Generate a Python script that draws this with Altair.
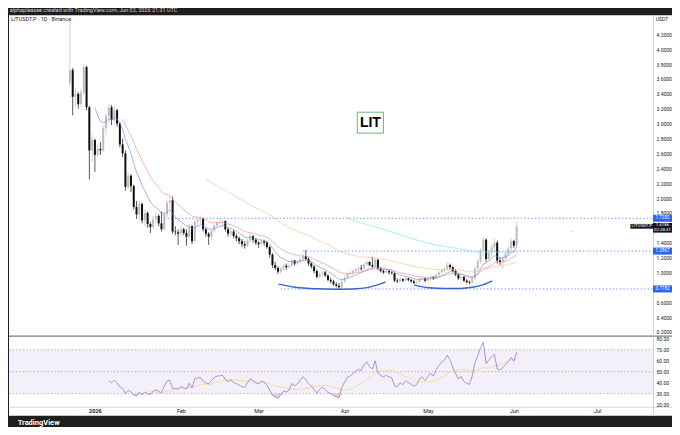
import altair as alt
import pandas as pd
import numpy as np

# ---------------- data ----------------
FIRST_DAY = "2025-12-23"
FIRST_OPEN = 3.55
CLOSE = [
    3.72, 3.36, 3.40, 3.26, 3.42, 3.76, 3.22, 2.64, 2.78, 2.58,
    2.66, 2.64, 2.94, 3.10, 3.22, 3.05, 3.18, 3.00, 2.72, 2.60,
    2.15, 2.30, 2.16, 1.88, 1.78, 1.92, 1.70, 1.80, 1.65, 1.61,
    1.72, 1.76, 1.66, 1.58, 1.78, 1.94, 1.97, 1.55, 1.54, 1.52,
    1.58, 1.53, 1.48, 1.62, 1.42, 1.68, 1.70, 1.72, 1.58, 1.52,
    1.48, 1.56, 1.63, 1.67, 1.68, 1.69, 1.58, 1.52, 1.55, 1.49,
    1.46, 1.42, 1.38, 1.36, 1.43, 1.49, 1.44, 1.40, 1.38, 1.42,
    1.40, 1.34, 1.24, 1.10, 1.06, 1.01, 1.05, 1.09, 1.07, 1.09,
    1.16, 1.12, 1.14, 1.18, 1.22, 1.18, 1.12, 1.08, 1.02, 0.94,
    0.98, 1.00, 0.96, 0.90, 0.88, 0.84, 0.82, 0.80, 0.88, 0.93,
    0.98, 0.99, 1.02, 1.04, 1.06, 1.05, 1.11, 1.14, 1.10, 1.08,
    1.17, 1.05, 1.02, 1.00, 1.02, 1.00, 0.99, 0.89, 0.88, 0.91,
    0.89, 0.92, 0.90, 0.88, 0.86, 0.87, 0.91, 0.92, 0.89, 0.92,
    0.94, 0.92, 0.97, 1.00, 1.03, 1.05, 1.10, 1.07, 1.02, 0.97,
    0.92, 0.94, 0.89, 0.87, 0.86, 0.92, 1.05, 1.15, 1.30, 1.44,
    1.18, 1.26, 1.34, 1.40, 1.16, 1.14, 1.19, 1.25, 1.32, 1.42,
    1.36, 1.62,
]
HIGH = [
    4.38, 3.75, 3.48, 3.42, 3.46, 3.80, 3.78, 3.24, 2.85, 2.80,
    2.72, 2.75, 2.98, 3.14, 3.27, 3.25, 3.24, 3.20, 3.02, 2.80,
    2.64, 2.34, 2.32, 2.18, 1.96, 1.97, 1.94, 1.84, 1.82, 1.68,
    1.76, 1.80, 1.78, 1.82, 1.82, 1.98, 2.03, 2.02, 1.62, 1.58,
    1.62, 1.60, 1.58, 1.66, 1.64, 1.72, 1.74, 1.77, 1.74, 1.60,
    1.54, 1.58, 1.66, 1.70, 1.74, 1.72, 1.70, 1.60, 1.58, 1.57,
    1.52, 1.48, 1.45, 1.42, 1.45, 1.53, 1.50, 1.46, 1.42, 1.44,
    1.44, 1.42, 1.36, 1.26, 1.14, 1.08, 1.07, 1.11, 1.12, 1.12,
    1.18, 1.17, 1.17, 1.21, 1.25, 1.30, 1.20, 1.14, 1.10, 1.04,
    1.00, 1.02, 1.02, 0.97, 0.93, 0.90, 0.87, 0.86, 0.91, 0.96,
    1.00, 1.02, 1.05, 1.07, 1.08, 1.10, 1.13, 1.16, 1.15, 1.21,
    1.19, 1.18, 1.07, 1.04, 1.04, 1.03, 1.02, 1.00, 0.92, 0.93,
    0.92, 0.94, 0.93, 0.91, 0.90, 0.90, 0.93, 0.94, 0.93, 0.94,
    0.96, 0.95, 0.99, 1.02, 1.05, 1.07, 1.13, 1.12, 1.09, 1.04,
    0.99, 0.96, 0.95, 0.91, 0.89, 0.94, 1.08, 1.18, 1.33, 1.47,
    1.46, 1.30, 1.38, 1.45, 1.43, 1.20, 1.22, 1.28, 1.35, 1.46,
    1.44, 1.68,
]
LOW = [
    3.50, 3.11, 3.22, 3.20, 3.22, 3.38, 3.18, 2.25, 2.48, 2.35,
    2.55, 2.58, 2.62, 2.85, 3.00, 2.98, 3.00, 2.96, 2.68, 2.55,
    2.10, 2.12, 2.08, 1.85, 1.72, 1.70, 1.66, 1.62, 1.60, 1.53,
    1.58, 1.66, 1.62, 1.55, 1.56, 1.74, 1.86, 1.52, 1.50, 1.37,
    1.48, 1.50, 1.36, 1.46, 1.38, 1.40, 1.62, 1.64, 1.55, 1.48,
    1.37, 1.44, 1.54, 1.60, 1.63, 1.62, 1.55, 1.48, 1.48, 1.46,
    1.42, 1.38, 1.34, 1.32, 1.34, 1.40, 1.40, 1.37, 1.33, 1.36,
    1.36, 1.32, 1.20, 1.06, 1.03, 0.98, 0.98, 1.02, 1.04, 1.05,
    1.07, 1.09, 1.10, 1.12, 1.15, 1.16, 1.09, 1.05, 0.99, 0.92,
    0.92, 0.95, 0.94, 0.88, 0.85, 0.82, 0.80, 0.78, 0.79, 0.86,
    0.92, 0.95, 0.97, 1.00, 1.01, 1.02, 1.04, 1.08, 1.08, 1.06,
    1.07, 1.03, 1.00, 0.98, 0.98, 0.97, 0.97, 0.87, 0.86, 0.87,
    0.87, 0.88, 0.88, 0.86, 0.84, 0.84, 0.86, 0.89, 0.87, 0.88,
    0.90, 0.90, 0.91, 0.95, 0.98, 1.00, 1.03, 1.04, 1.00, 0.95,
    0.90, 0.90, 0.87, 0.85, 0.84, 0.85, 0.90, 1.02, 1.12, 1.22,
    1.14, 1.16, 1.20, 1.28, 1.12, 1.10, 1.05, 1.16, 1.22, 1.28,
    1.33, 1.33,
]

# horizontal dotted levels
LEVEL_PRICE = [1.7282, 1.2867, 0.7782]
LEVEL_FROM = ["2026-01-26T00:00:00Z", "2026-03-17T00:00:00Z", "2026-03-09T00:00:00Z"]
LEVEL_TEXT = ["1.7282", "1.2867", "0.7782"]

# hand-drawn blue "cup" curves
ARC1_T = ["2026-03-08T05:00:00Z", "2026-03-14T07:00:00Z", "2026-03-21T12:00:00Z",
          "2026-03-28T16:00:00Z", "2026-04-03T19:00:00Z", "2026-04-09T14:00:00Z",
          "2026-04-13T05:00:00Z", "2026-04-15T17:00:00Z"]
ARC1_P = [0.842, 0.800, 0.780, 0.774, 0.778, 0.800, 0.835, 0.874]
ARC2_T = ["2026-04-26T02:00:00Z", "2026-05-01T05:00:00Z", "2026-05-07T07:00:00Z",
          "2026-05-12T17:00:00Z", "2026-05-17T00:00:00Z", "2026-05-21T00:00:00Z",
          "2026-05-24T05:00:00Z"]
ARC2_P = [0.830, 0.795, 0.785, 0.785, 0.800, 0.835, 0.885]

LAST_PRICE = "1.6186"
COUNTDOWN = "02:28:31"
SYMBOL = "LITUSDT.P"
HEADER = "alphapleasee created with TradingView.com, Jun 02, 2026 21:31 UTC"
LEGEND = "LITUSDT.P · 1D · Binance"

# 0.8000 and 1.6000 are covered by the price tags in the reference
PRICE_TICKS = [0.2, 0.4, 0.6, 1.0, 1.2, 1.4, 1.8, 2.0, 2.2, 2.4,
               2.6, 2.8, 3.0, 3.2, 3.4, 3.6, 3.8, 4.0, 4.2]
RSI_TICKS = [20, 30, 40, 50, 60, 70, 80]
MONTH_TICKS = [(2026, m) for m in range(1, 8)]

# ---------------- derived tables ----------------
dates = pd.date_range(FIRST_DAY, periods=len(CLOSE), freq="D")
tstr = [d.strftime("%Y-%m-%dT00:00:00Z") for d in dates]
close = np.array(CLOSE)
opens = np.concatenate([[FIRST_OPEN], close[:-1]])  # continuous candles
up = close >= opens
candles = pd.DataFrame({
    "t": tstr, "o": opens, "c": close, "h": HIGH, "l": LOW,
    "col": np.where(up, "#bdbdbd", "#101010"),
})


def ema(vals, n):
    out = [np.nan] * len(vals)
    out[n - 1] = float(np.mean(vals[:n]))
    a = 2.0 / (n + 1)
    for k in range(n, len(vals)):
        out[k] = a * vals[k] + (1 - a) * out[k - 1]
    return out


ma_rows = []
for n, name in [(100, "ma100"), (50, "ma50"), (20, "ma20"), (10, "ma10")]:
    vals = ema(close, n)
    for t, v in zip(tstr, vals):
        if not np.isnan(v):
            ma_rows.append({"t": t, "p": v, "s": name})
mas = pd.DataFrame(ma_rows)

# RSI 14 (Wilder) + SMA 14 signal
n = 14
delta = np.diff(close)
gain = np.maximum(delta, 0)
loss = np.maximum(-delta, 0)
rsi = [np.nan] * len(close)
ag, al = gain[:n].mean(), loss[:n].mean()
rsi[n] = 100 - 100 / (1 + ag / al)
for k in range(n + 1, len(close)):
    ag = (ag * (n - 1) + gain[k - 1]) / n
    al = (al * (n - 1) + loss[k - 1]) / n
    rsi[k] = 100.0 if al == 0 else 100 - 100 / (1 + ag / al)
rsi_s = pd.Series(rsi)
sig = rsi_s.rolling(14).mean()
rsi_df = pd.DataFrame({"t": tstr, "r": rsi_s, "sg": sig})
rsi_df = rsi_df[rsi_df["r"].notna()]
rsi_df["low"] = rsi_df["r"].clip(upper=30)
sig_df = rsi_df[rsi_df["sg"].notna()]

X_START = "2025-12-01T01:00:00Z"
X_END = "2026-07-28T00:00:00Z"
AXIS_T = "2026-07-21T03:30:00Z"

levels = pd.DataFrame({"t": LEVEL_FROM, "t2": [AXIS_T] * 3, "p": LEVEL_PRICE,
                       "lab": LEVEL_TEXT})
arcs = pd.DataFrame({"t": ARC1_T + ARC2_T, "p": ARC1_P + ARC2_P,
                     "g": ["a"] * len(ARC1_T) + ["b"] * len(ARC2_T)})

# ---------------- encodings ----------------
xscale = alt.Scale(type="utc", domain=[X_START, X_END], nice=False)
pscale = alt.Scale(domain=[0.148, 4.456], nice=False, zero=False)
rscale = alt.Scale(domain=[10, 81.8], nice=False, zero=False)

FONT = "Roboto"
TXT = "#131722"

x_price_axis = alt.Axis(labels=False, ticks=False, grid=False, domain=True,
                        domainColor="#9598a1", domainWidth=1, title=None)
x_rsi_axis = alt.Axis(orient="bottom", offset=-9, ticks=False, grid=False,
                      domainColor="#d1d4dc", title=None, labelFontSize=5.5,
                      labelColor=TXT, labelPadding=2, labelFont=FONT,
                      values=[alt.DateTime(year=y, month=m, date=1, utc=True)
                              for y, m in MONTH_TICKS],
                      labelExpr="utcmonth(datum.value) == 0 ? utcFormat(datum.value, '%Y') : utcFormat(datum.value, '%b')",
                      labelFontWeight={"condition": {"test": "utcmonth(datum.value) == 0", "value": "bold"}, "value": "normal"})
p_axis = alt.Axis(orient="right", offset=-19, values=PRICE_TICKS, format=".4f",
                  labelFontSize=5, labelColor=TXT, ticks=False, grid=False, zindex=0,
                  domainColor="#d1d4dc", labelPadding=3, title=None, labelFont=FONT)
r_axis = alt.Axis(orient="right", offset=-19, values=RSI_TICKS, format=".2f",
                  labelFontSize=5, labelColor=TXT, ticks=False, grid=False,
                  domainColor="#d1d4dc", labelPadding=3, title=None, labelFont=FONT)


def PX(f="t"):
    return alt.X(f"{f}:T", scale=xscale, axis=x_price_axis)


def PY(f="p"):
    return alt.Y(f"{f}:Q", scale=pscale, axis=p_axis)


def RX(f="t"):
    return alt.X(f"{f}:T", scale=xscale, axis=x_rsi_axis)


def RY(f="r"):
    return alt.Y(f"{f}:Q", scale=rscale, axis=r_axis)


WHITE_VIEW = alt.ViewBackground(fill="white", strokeWidth=0)

# ---------------- price panel ----------------
lvl_rules = alt.Chart(levels).mark_rule(color="#2962ff", strokeWidth=0.8,
                                         strokeDash=[1.5, 2], opacity=0.8).encode(
    x=PX(), x2="t2:T", y=PY())

wicks = alt.Chart(candles).mark_rule(strokeWidth=0.7).encode(
    x=PX(), y=PY("l"), y2="h:Q", color=alt.Color("col:N", scale=None))
bodies = alt.Chart(candles).mark_rule(strokeWidth=2).encode(
    x=PX(), y=PY("o"), y2="c:Q", color=alt.Color("col:N", scale=None))

ma_lines = alt.Chart(mas).mark_line(strokeWidth=0.8, opacity=0.8).encode(
    x=PX(), y=PY(), detail="s:N",
    color=alt.Color("s:N", scale=alt.Scale(
        domain=["ma100", "ma50", "ma20", "ma10"],
        range=["#80deea", "#ffb98c", "#f28b8b", "#7985e6"]), legend=None))

arc_lines = alt.Chart(arcs).mark_line(color="#3a62d6", strokeWidth=1.4,
                                      interpolate="monotone").encode(
    x=PX(), y=PY(), detail="g:N")

dot = alt.Chart(pd.DataFrame({"t": ["2026-06-21T21:00:00Z"], "p": [1.548]})).mark_point(
    filled=True, size=2, color="#9598a1").encode(x=PX(), y=PY())

lit_box = alt.Chart(pd.DataFrame({"t": ["2026-04-05T14:00:00Z"], "t2": ["2026-04-15T00:00:00Z"],
                                  "p": [2.872], "p2": [3.154]})).mark_rect(
    fill="white", stroke="#66bb6a", strokeWidth=1).encode(x=PX(), x2="t2:T", y=PY(), y2="p2:Q")
lit_text = alt.Chart(pd.DataFrame({"t": ["2026-04-10T07:00:00Z"], "p": [3.013], "txt": ["LIT"]})).mark_text(
    fontSize=14, fontWeight="bold", color="#000000", font="Liberation Sans",
    baseline="middle", align="center").encode(x=PX(), y=PY(), text="txt:N")

lab_boxes = alt.Chart(levels.assign(a=AXIS_T, b=X_END, lo=levels.p - 0.047,
                                    hi=levels.p + 0.047)).mark_rect(color="#2962ff").encode(
    x=PX("a"), x2="b:T", y=PY("lo"), y2="hi:Q")
lab_text = alt.Chart(levels.assign(m="2026-07-24T14:00:00Z")).mark_text(
    fontSize=4.6, color="white", font=FONT, align="center", baseline="middle").encode(
    x=PX("m"), y=PY(), text="lab:N")

cur_box = alt.Chart(pd.DataFrame({"a": [AXIS_T], "b": [X_END], "lo": [1.535], "hi": [1.665]})).mark_rect(
    color="#131722").encode(x=PX("a"), x2="b:T", y=PY("lo"), y2="hi:Q")
sym_box = alt.Chart(pd.DataFrame({"a": ["2026-07-13T00:00:00Z"], "b": [AXIS_T], "lo": [1.588], "hi": [1.652]})).mark_rect(
    color="#131722").encode(x=PX("a"), x2="b:T", y=PY("lo"), y2="hi:Q")
cur_text = alt.Chart(pd.DataFrame({"m": ["2026-07-24T14:00:00Z"] * 2 + ["2026-07-17T02:00:00Z"],
                                   "p": [1.632, 1.566, 1.620],
                                   "txt": [LAST_PRICE, COUNTDOWN, SYMBOL]})).mark_text(
    fontSize=4.4, color="white", font=FONT, align="center", baseline="middle").encode(
    x=PX("m"), y=PY(), text="txt:N")

legend_text = alt.Chart(pd.DataFrame({"t": ["2025-12-01T18:00:00Z"], "p": [4.41], "txt": [LEGEND]})).mark_text(
    fontSize=5.5, color=TXT, font=FONT, align="left", baseline="middle").encode(
    x=PX(), y=PY(), text="txt:N")
unit_text = alt.Chart(pd.DataFrame({"t": ["2026-07-24T10:00:00Z"], "p": [4.41], "txt": ["USDT"]})).mark_text(
    fontSize=5, color=TXT, font=FONT, align="center", baseline="middle").encode(
    x=PX(), y=PY(), text="txt:N")

price = alt.layer(lvl_rules, wicks, bodies, ma_lines, arc_lines, dot, lit_box, lit_text,
                  lab_boxes, lab_text, sym_box, cur_box, cur_text, legend_text,
                  unit_text).properties(width=664, height=321, view=WHITE_VIEW)

# ---------------- RSI panel ----------------
band = alt.Chart(pd.DataFrame({"a": [X_START], "b": [AXIS_T], "lo": [30], "hi": [70]})).mark_rect(
    color="#7e57c2", opacity=0.09).encode(x=RX("a"), x2="b:T", y=RY("lo"), y2="hi:Q")
guides = alt.Chart(pd.DataFrame({"a": [X_START] * 3, "b": [AXIS_T] * 3, "r": [70, 50, 30]})).mark_rule(
    color="#9598a1", strokeWidth=0.7, strokeDash=[1.5, 2]).encode(x=RX("a"), x2="b:T", y=RY())
oversold = alt.Chart(rsi_df).mark_area(color="#f23645", opacity=0.25).encode(
    x=RX(), y=RY("low"), y2=alt.datum(30))
rsi_line = alt.Chart(rsi_df).mark_line(color="#8f7cd6", strokeWidth=0.8).encode(x=RX(), y=RY())
sig_line = alt.Chart(sig_df).mark_line(color="#f7d58a", strokeWidth=0.8).encode(x=RX(), y=RY("sg"))

rsi_panel = alt.layer(band, guides, oversold, sig_line, rsi_line).properties(
    width=664, height=79, view=WHITE_VIEW,
    title=alt.TitleParams("TradingView", orient="bottom", anchor="start", fontSize=7.5,
                          color="white", fontWeight="bold", offset=3, dx=9, font=FONT))

chart = alt.vconcat(price, rsi_panel, spacing=0).properties(
    title=alt.TitleParams(HEADER, fontSize=5.5, color="#d1d4dc", anchor="start", offset=1.5,
                          font=FONT, fontWeight="normal", dx=1),
    background="#1e1e1e", padding=0,
).configure_view(strokeWidth=0)

chart.save("out.html", embed_options={"renderer": "svg", "actions": False})
